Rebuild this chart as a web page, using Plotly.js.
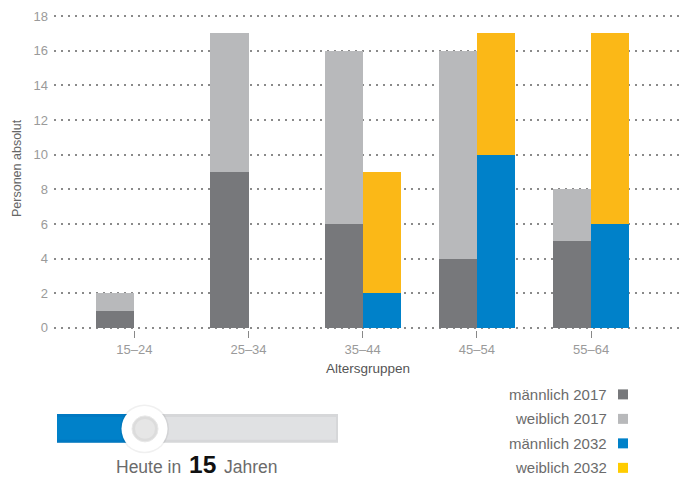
<!DOCTYPE html>
<html>
<head>
<meta charset="utf-8">
<script src="https://cdn.plot.ly/plotly-3.0.1.min.js"></script>
<style>html,body{margin:0;padding:0;background:#fff;}#chart{width:682px;height:479px;}</style>
</head>
<body>
<div id="chart"></div>
<script>
// ---- data ----
const categories = ['15–24', '25–34', '35–44', '45–54', '55–64'];
const maennlich2017 = [1, 9, 6, 4, 5];
const weiblich2017  = [1, 8, 10, 12, 3];
const maennlich2032 = [0, 0, 2, 10, 6];
const weiblich2032  = [0, 0, 7, 7, 11];
const seriesNames = ['männlich 2017', 'weiblich 2017', 'männlich 2032', 'weiblich 2032'];
const yTicks = [0, 2, 4, 6, 8, 10, 12, 14, 16, 18];
const sliderYears = 15;

// ---- styling ----
const colors = ['#77787b', '#b8b9bb', '#0081c9', '#fbb817'];
const FONT = '"Liberation Sans", Arial, Helvetica, sans-serif';
// pixel positions of y=0 and y=18 and plot edges
const Y0 = 328, Y18 = 16, L = 54, R = 682;
const perUnit = (Y0 - Y18) / 18;
const yPad = 0.12;
const T = Y18 - yPad * perUnit, B = Y0 + yPad * perUnit;
const px2x = p => (p - L) / (R - L);
const py2y = p => (B - p) / (B - T);
const tick0 = 134.3, tickStep = 114.2;

const idx = categories.map((c, i) => i);
const x2017 = idx.map(i => i - 1/6);
const x2032 = idx.map(i => i + 1/6);
const barW = 1/3;

function bar(x, y, name, color) {
  return {type: 'bar', x: x, y: y, name: name, width: barW,
          marker: {color: color, line: {width: 0}}, showlegend: false, hoverinfo: 'skip'};
}
const data = [
  bar(x2017, maennlich2017, seriesNames[0], colors[0]),
  bar(x2017, weiblich2017, seriesNames[1], colors[1]),
  bar(x2032, maennlich2032, seriesNames[2], colors[2]),
  bar(x2032, weiblich2032, seriesNames[3], colors[3])
];

const shapes = [];
const annotations = [];

// custom legend
const legendY = [394.5, 419, 443.5, 468];
seriesNames.forEach((n, i) => {
  annotations.push({xref: 'paper', yref: 'paper', x: px2x(609), y: py2y(legendY[i]),
    xanchor: 'right', yanchor: 'middle', showarrow: false, text: n,
    font: {family: FONT, size: 15, color: '#6b6b6b'}});
  shapes.push({type: 'rect', xref: 'paper', yref: 'paper',
    x0: px2x(618), x1: px2x(628), y0: py2y(legendY[i] - 5), y1: py2y(legendY[i] + 5),
    fillcolor: i === 3 ? '#ffcc00' : colors[i], line: {width: 0}});
});

// slider
shapes.push({type: 'rect', xref: 'paper', yref: 'paper', x0: px2x(57), x1: px2x(338), y0: py2y(414), y1: py2y(443), fillcolor: '#d6d7d9', line: {width: 0}});
shapes.push({type: 'rect', xref: 'paper', yref: 'paper', x0: px2x(57), x1: px2x(336), y0: py2y(417), y1: py2y(440), fillcolor: '#e0e1e3', line: {width: 0}});
shapes.push({type: 'rect', xref: 'paper', yref: 'paper', x0: px2x(57), x1: px2x(144), y0: py2y(414), y1: py2y(443), fillcolor: '#0079c2', line: {width: 0}});
shapes.push({type: 'rect', xref: 'paper', yref: 'paper', x0: px2x(57), x1: px2x(144), y0: py2y(417), y1: py2y(440), fillcolor: '#0081c9', line: {width: 0}});
shapes.push({type: 'circle', xref: 'paper', yref: 'paper', x0: px2x(120), x1: px2x(169), y0: py2y(404.5), y1: py2y(453.5), fillcolor: 'rgba(0,0,0,0.06)', line: {width: 0}});
shapes.push({type: 'circle', xref: 'paper', yref: 'paper', x0: px2x(121.5), x1: px2x(167.5), y0: py2y(406), y1: py2y(452), fillcolor: '#ffffff', line: {width: 0}});
shapes.push({type: 'circle', xref: 'paper', yref: 'paper', x0: px2x(132), x1: px2x(158), y0: py2y(416), y1: py2y(442), fillcolor: '#dcdcdc', line: {width: 1, color: '#e8e8e8'}});
shapes.push({type: 'circle', xref: 'paper', yref: 'paper', x0: px2x(135), x1: px2x(155), y0: py2y(419), y1: py2y(439), fillcolor: '#e6e6e6', line: {width: 0}});

annotations.push({xref: 'paper', yref: 'paper', x: px2x(182.5), y: py2y(467.5), xanchor: 'right', yanchor: 'middle', showarrow: false,
  text: 'Heute in', font: {family: FONT, size: 17.5, color: '#6b6b6b'}});
annotations.push({xref: 'paper', yref: 'paper', x: px2x(202.5), y: py2y(464.5), xanchor: 'center', yanchor: 'middle', showarrow: false,
  text: '<b>' + sliderYears + '</b>', font: {family: FONT, size: 24.5, color: '#111111'}});
annotations.push({xref: 'paper', yref: 'paper', x: px2x(222), y: py2y(467.5), xanchor: 'left', yanchor: 'middle', showarrow: false,
  text: 'Jahren', font: {family: FONT, size: 17.5, color: '#6b6b6b'}});

// y axis title
annotations.push({xref: 'paper', yref: 'paper', x: px2x(17), y: py2y(168), xanchor: 'center', yanchor: 'middle', showarrow: false,
  textangle: -90, text: 'Personen absolut', font: {family: FONT, size: 12.5, color: '#666666'}});

const layout = {
  width: 682, height: 479,
  margin: {l: L, r: 682 - R, t: T, b: 479 - B, pad: 0},
  paper_bgcolor: '#ffffff', plot_bgcolor: '#ffffff',
  barmode: 'stack',
  showlegend: false,
  font: {family: FONT},
  xaxis: {
    range: [(L - tick0) / tickStep, (R - tick0) / tickStep],
    tickvals: idx, ticktext: categories,
    ticks: 'outside', ticklen: 7, tickwidth: 1, tickcolor: '#888888',
    tickfont: {family: FONT, size: 13, color: '#9a9a9a'},
    showgrid: false, zeroline: false, showline: false,
    title: {text: 'Altersgruppen', font: {family: FONT, size: 13.5, color: '#555555'}, standoff: 7},
    fixedrange: true
  },
  yaxis: {
    range: [-yPad, 18 + yPad],
    tickvals: yTicks,
    ticks: '', ticklabelstandoff: 5,
    tickfont: {family: FONT, size: 13, color: '#9a9a9a'},
    showgrid: true, gridcolor: '#8a8a8a', gridwidth: 2, griddash: '2px,5px',
    zeroline: false, showline: false,
    fixedrange: true
  },
  shapes: shapes,
  annotations: annotations
};

Plotly.newPlot('chart', data, layout, {displayModeBar: false, staticPlot: true});
</script>
</body>
</html>
